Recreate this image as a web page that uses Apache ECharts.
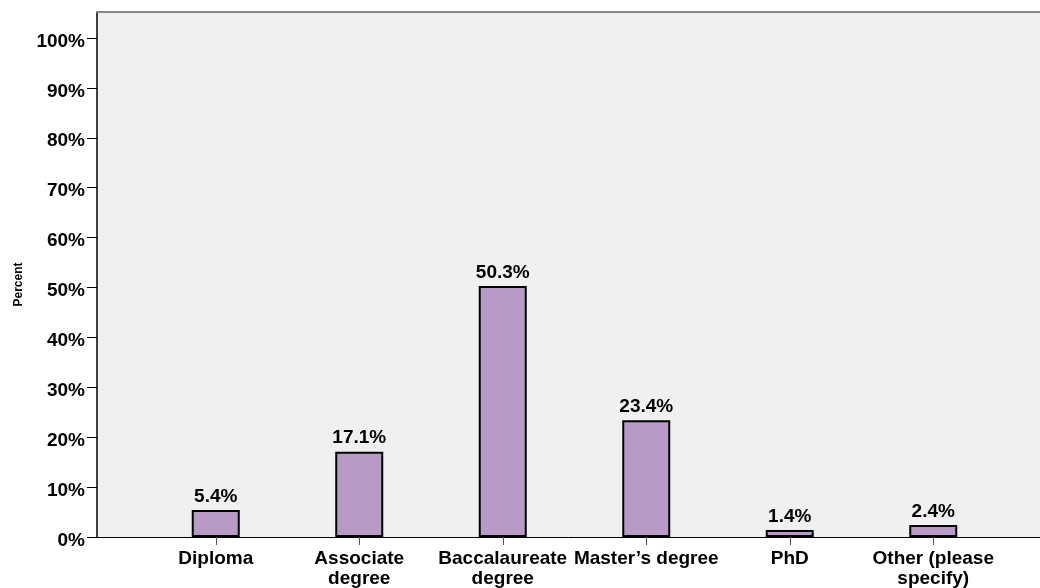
<!DOCTYPE html>
<html>
<head>
<meta charset="utf-8">
<script src="https://cdn.jsdelivr.net/npm/echarts@6/dist/echarts.min.js"></script>
<style>
  html, body { margin: 0; padding: 0; background: #fff; }
  #chart { width: 1040px; height: 588px; }
</style>
</head>
<body>
<div id="chart"></div>
<script>
// education level categories and their share (percent)
const categories = ['Diploma', 'Associate\ndegree', 'Baccalaureate\ndegree', 'Master\u2019s degree', 'PhD', 'Other (please\nspecify)']
const percents = [5.4, 17.1, 50.3, 23.4, 1.4, 2.4]
const yTicks = [0, 10, 20, 30, 40, 50, 60, 70, 80, 90, 100]

const font = "'Liberation Sans', Arial, sans-serif"
const yMax = 105.2

const chart = echarts.init(document.getElementById('chart'))

chart.setOption({
  animation: false,
  grid: [
    // frame: background + axes lines
    { left: 97, right: 0, top: 12, bottom: 51, outerBoundsMode: 'none', show: true, backgroundColor: '#f0f0f0', borderWidth: 0 },
    // bars sit in a narrower band inside the frame
    { left: 144, right: 35, top: 12, bottom: 51, outerBoundsMode: 'none' }
  ],
  xAxis: [
    {
      gridIndex: 0, type: 'value', min: 0, max: 1,
      axisLine: { show: true, lineStyle: { color: '#000', width: 1 } },
      axisTick: { show: false }, axisLabel: { show: false }, splitLine: { show: false }
    },
    {
      gridIndex: 0, type: 'value', min: 0, max: 1, position: 'top',
      axisLine: { show: true, lineStyle: { color: '#888', width: 2 } },
      axisTick: { show: false }, axisLabel: { show: false }, splitLine: { show: false }
    },
    {
      gridIndex: 1, type: 'category', data: categories,
      axisLine: { show: false },
      axisTick: { show: true, alignWithLabel: true, length: 8, lineStyle: { color: '#555' } },
      axisLabel: {
        interval: 0, margin: 12, color: '#000', fontFamily: font,
        fontWeight: 'bold', fontSize: 19, lineHeight: 20
      }
    }
  ],
  yAxis: [
    {
      gridIndex: 0, type: 'value', min: 0, max: yMax,
      name: 'Percent', nameLocation: 'middle', nameGap: 72,
      nameTextStyle: { color: '#000', fontFamily: font, fontWeight: 'bold', fontSize: 12, padding: [0, 20, 0, 0] },
      axisLine: { show: true, lineStyle: { color: '#000', width: 1.5 } },
      axisTick: { show: true, length: 10, customValues: yTicks, lineStyle: { color: '#000' } },
      axisLabel: {
        customValues: yTicks, formatter: '{value}%', margin: 12,
        verticalAlign: 'top', lineHeight: 7,
        color: '#000', fontFamily: font, fontWeight: 'bold', fontSize: 19
      },
      splitLine: { show: false }
    },
    {
      gridIndex: 1, type: 'value', min: 0, max: yMax, show: false
    }
  ],
  series: [
    {
      type: 'bar',
      xAxisIndex: 2,
      yAxisIndex: 1,
      data: percents,
      barWidth: 48,
      itemStyle: { color: '#b89ac8', borderColor: '#000', borderWidth: 2 },
      label: {
        show: true, position: 'top', distance: 4,
        formatter: p => p.value.toFixed(1) + '%',
        color: '#000', fontFamily: font, fontWeight: 'bold', fontSize: 19
      }
    }
  ]
})
</script>
</body>
</html>
